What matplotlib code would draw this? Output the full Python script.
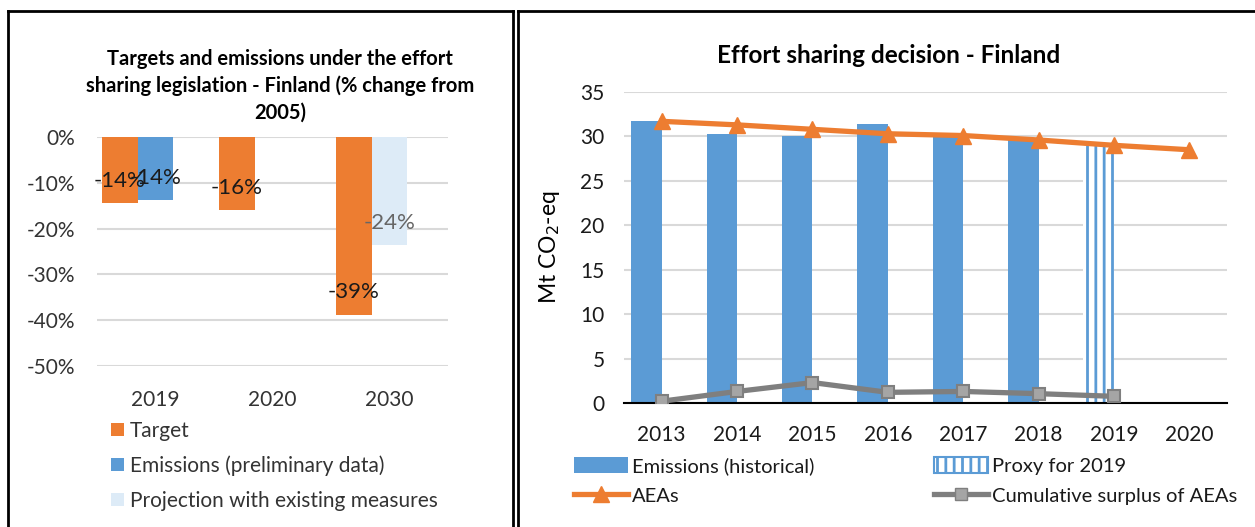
import matplotlib.pyplot as plt
from matplotlib.lines import Line2D
from matplotlib.patches import Patch
import numpy as np

plt.rcParams['font.family'] = ['Lato', 'DejaVu Sans']
plt.rcParams['hatch.linewidth'] = 2.0
plt.rcParams['axes.unicode_minus'] = False

# left chart: % change from 2005
left_years = ['2019', '2020', '2030']
target_pct = [-14.4, -16.0, -38.8]
emis_pct = [-13.8, np.nan, np.nan]
proj_pct = [np.nan, np.nan, -23.6]
left_ticks = [0, -10, -20, -30, -40, -50]

# right chart: Mt CO2-eq
years = ['2013', '2014', '2015', '2016', '2017', '2018', '2019', '2020']
emis_hist = [31.7, 30.3, 30.0, 31.4, 30.0, 29.8, np.nan, np.nan]
proxy_2019 = [np.nan, np.nan, np.nan, np.nan, np.nan, np.nan, 29.0, np.nan]
aeas = [31.7, 31.3, 30.8, 30.3, 30.1, 29.6, 29.0, 28.5]
surplus = [0.2, 1.3, 2.3, 1.2, 1.3, 1.05, 0.75, np.nan]
right_ticks = [0, 5, 10, 15, 20, 25, 30, 35]

ORANGE = '#ED7D31'
BLUE = '#5B9BD5'
LIGHT = '#DDEBF7'
GRID = '#D9D9D9'
TXT = '#333333'

W, H = 1255, 527
fig = plt.figure(figsize=(W / 100, H / 100), dpi=100)

# panel borders
for xs, ys in [([8, 513], [11, 11]), ([8, 8], [11, 527]), ([513, 513], [11, 527]),
               ([518, 1255], [11, 11]), ([518, 518], [11, 527])]:
    fig.add_artist(Line2D([x / W for x in xs], [1 - y / H for y in ys],
                          color='black', lw=2, transform=fig.transFigure))

# ---------- left chart ----------
axL = fig.add_axes([97 / W, 1 - 366 / H, (448 - 97) / W, (366 - 137) / H])
x = np.arange(len(left_years))
bw = 0.303
b1 = axL.bar(x - bw, target_pct, bw, color=ORANGE, label='Target')
b2 = axL.bar(x, emis_pct, bw, color=BLUE, label='Emissions (preliminary data)')
b3 = axL.bar(x, proj_pct, bw, color=LIGHT, label='Projection with existing measures')

for xs, vals, col in [(x - bw, target_pct, '#1a1a1a'), (x, emis_pct, '#1a1a1a'),
                      (x, proj_pct, '#666666')]:
    for xi, v in zip(xs, vals):
        if np.isnan(v):
            continue
        axL.annotate('%d%%' % round(v), (xi, v), xytext=(0, 16),
                     textcoords='offset points', ha='center', va='center',
                     fontsize=16, color=col)

axL.set_xlim(-0.5, 2.5)
axL.set_ylim(-50, 0)
axL.set_yticks(left_ticks)
axL.set_yticklabels(['%d%%' % t for t in left_ticks])
axL.set_xticks(x)
axL.set_xticklabels(left_years)
axL.yaxis.grid(True, color=GRID, lw=1.5)
axL.set_axisbelow(True)
for s in axL.spines.values():
    s.set_visible(False)
axL.tick_params(axis='y', length=0, pad=16, labelsize=15, labelcolor=TXT)
axL.tick_params(axis='x', length=0, pad=17, labelsize=15, labelcolor=TXT)

fig.text(280 / W, 1 - 86 / H,
         'Targets and emissions under the effort\nsharing legislation - Finland (% change from\n2005)',
         ha='center', va='center', fontsize=14.5, fontweight='bold', linespacing=1.42)

fig.legend(handles=[b1, b2, b3], loc='upper left',
           bbox_to_anchor=(111 / W, 1 - 421 / H), frameon=False,
           fontsize=15, handlelength=0.6, handleheight=0.6,
           handletextpad=0.3, labelspacing=0.7, labelcolor=TXT,
           borderaxespad=0, borderpad=0)

# ---------- right chart ----------
axR = fig.add_axes([624 / W, 1 - 403 / H, (1227 - 624) / W, (403 - 92) / H])
xr = np.arange(len(years))
rw = 0.405
axR.bar(xr - rw / 2, emis_hist, rw, color=BLUE, label='Emissions (historical)')
axR.bar(xr - rw / 2, proxy_2019, rw, color='white', edgecolor=BLUE, lw=0,
        hatch='||', label='Proxy for 2019')
axR.plot(xr, aeas, color=ORANGE, lw=3.8, marker='^', ms=12,
         markerfacecolor=ORANGE, markeredgecolor=ORANGE, label='AEAs', zorder=4)
axR.plot(xr, surplus, color='#7F7F7F', lw=3.8, marker='s', ms=9,
         markerfacecolor='#A5A5A5', markeredgecolor='#7F7F7F', mew=1.5,
         label='Cumulative surplus of AEAs', zorder=4)

axR.set_xlim(-0.5, len(years) - 0.5)
axR.set_ylim(0, 35)
axR.set_yticks(right_ticks)
axR.set_xticks(xr)
axR.set_xticklabels(years)
axR.yaxis.grid(True, color=GRID, lw=1.5)
axR.set_axisbelow(True)
for s in ['top', 'right', 'left']:
    axR.spines[s].set_visible(False)
axR.spines['bottom'].set_color('black')
axR.spines['bottom'].set_linewidth(1.5)
axR.tick_params(axis='y', length=0, pad=14, labelsize=15, labelcolor='#1a1a1a')
axR.tick_params(axis='x', length=0, pad=16, labelsize=15, labelcolor='#1a1a1a')

fig.text(549 / W, 1 - 247 / H, 'Mt CO$_2$-eq', rotation=90, ha='center', va='center',
         fontsize=16.5, color='black')
fig.text(889 / W, 1 - 56 / H, 'Effort sharing decision - Finland', ha='center',
         va='center', fontsize=17.5, fontweight='bold')

h_em = Patch(facecolor=BLUE, label='Emissions (historical)')
h_px = Patch(facecolor='white', edgecolor=BLUE, hatch='||', lw=1.5, label='Proxy for 2019')
h_ae = Line2D([], [], color=ORANGE, lw=3.8, marker='^', ms=12, label='AEAs')
h_cs = Line2D([], [], color='#7F7F7F', lw=3.8, marker='s', ms=9,
              markerfacecolor='#A5A5A5', markeredgecolor='#7F7F7F',
              label='Cumulative surplus of AEAs')
fig.legend(handles=[h_em, h_ae, h_px, h_cs], ncol=2, loc='upper left',
           bbox_to_anchor=(574 / W, 1 - 457 / H), frameon=False, fontsize=14.5,
           handlelength=2.7, handleheight=0.8, handletextpad=0.2,
           labelspacing=0.6, columnspacing=5.9, labelcolor='#1a1a1a',
           borderaxespad=0, borderpad=0)

fig.savefig('out.png', dpi=100)
